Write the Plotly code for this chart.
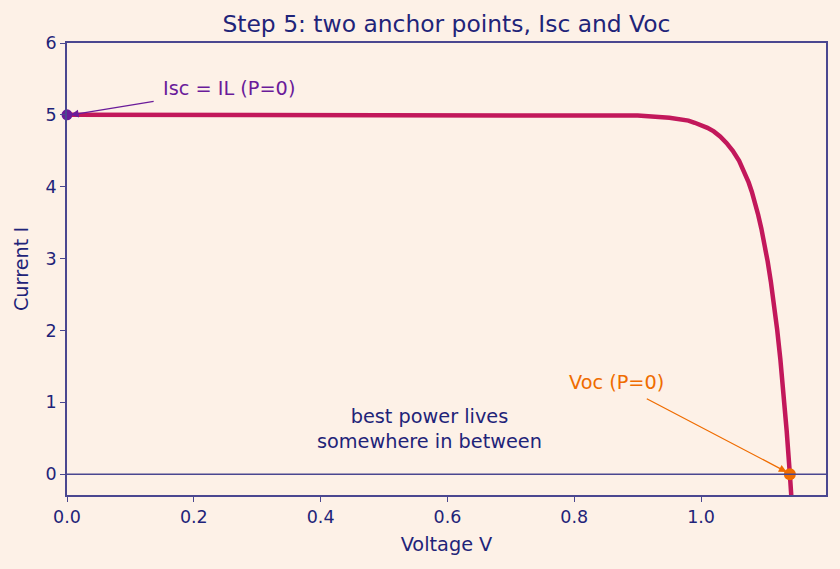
import plotly.graph_objects as go

# I-V curve values
voltage = [0.0, 0.1, 0.2, 0.3, 0.4, 0.5, 0.6, 0.7, 0.8, 0.85, 0.9, 0.95, 0.98, 0.99, 1.0,
           1.01, 1.02, 1.03, 1.04, 1.05, 1.06, 1.07, 1.075, 1.08, 1.085, 1.09, 1.095,
           1.10, 1.105, 1.11, 1.115, 1.12, 1.125, 1.13, 1.135, 1.14, 1.143]
current = [5.0, 5.0, 5.0, 5.0, 5.0, 5.0, 5.0, 5.0, 5.0, 5.0, 4.99, 4.96, 4.92, 4.89, 4.86,
           4.82, 4.77, 4.70, 4.61, 4.50, 4.36, 4.17, 4.06, 3.93, 3.78, 3.61, 3.42,
           3.21, 2.96, 2.68, 2.37, 2.01, 1.60, 1.13, 0.60, 0.0, -0.40]

isc_point = (0.0, 5.0)
voc_point = (1.14, 0.0)

title_text = "Step 5: two anchor points, Isc and Voc"
x_title = "Voltage V"
y_title = "Current I"
x_ticks = [0.0, 0.2, 0.4, 0.6, 0.8, 1.0]
y_ticks = [0, 1, 2, 3, 4, 5, 6]

BG = "#FDF1E7"
NAVY = "#1F2479"
AXIS = "#4A4790"
CURVE = "#C2185B"
PURPLE = "#6A1B9A"
ORANGE = "#EF6C00"
FONT = "DejaVu Sans"

fig = go.Figure()
fig.add_trace(go.Scatter(x=voltage, y=current, mode="lines",
                         line=dict(color=CURVE, width=4.5), hoverinfo="skip"))
fig.add_trace(go.Scatter(x=[isc_point[0]], y=[isc_point[1]], mode="markers",
                         marker=dict(color=PURPLE, size=11), cliponaxis=False))
fig.add_trace(go.Scatter(x=[voc_point[0]], y=[voc_point[1]], mode="markers",
                         marker=dict(color=ORANGE, size=12), cliponaxis=False))

fig.add_hline(y=0, line=dict(color=AXIS, width=1.5))

# Isc annotation
fig.add_annotation(x=0.149, y=5.36, text="Isc = IL (P=0)", showarrow=False,
                   xanchor="left", yanchor="middle",
                   font=dict(family=FONT, size=19.3, color=PURPLE))
fig.add_annotation(x=0.006, y=5.0, ax=0.139, ay=5.19, axref="x", ayref="y",
                   text="", showarrow=True, arrowhead=2, arrowsize=1.2,
                   arrowwidth=1.3, arrowcolor=PURPLE)
# Voc annotation
fig.add_annotation(x=0.866, y=1.28, text="Voc (P=0)", showarrow=False,
                   xanchor="center", yanchor="middle",
                   font=dict(family=FONT, size=19.3, color=ORANGE))
fig.add_annotation(x=1.135, y=0.03, ax=0.912, ay=1.06, axref="x", ayref="y",
                   text="", showarrow=True, arrowhead=2, arrowsize=1.2,
                   arrowwidth=1.3, arrowcolor=ORANGE)
# middle note
fig.add_annotation(x=0.571, y=0.625, text="best power lives<br>somewhere in between",
                   showarrow=False, xanchor="center", yanchor="middle",
                   font=dict(family=FONT, size=19.3, color=NAVY))

axis_common = dict(showline=True, mirror=True, linecolor=AXIS, linewidth=1.5,
                   ticks="outside", tickcolor=AXIS, ticklen=5, tickwidth=1.2,
                   showgrid=False, zeroline=False,
                   tickfont=dict(family=FONT, size=17.5, color=NAVY),
                   title_font=dict(family=FONT, size=19.3, color=NAVY))

fig.update_xaxes(range=[0, 1.197], tickvals=x_ticks,
                 ticktext=[f"{v:.1f}" for v in x_ticks],
                 title_text=x_title, title_standoff=12, **axis_common)
fig.update_yaxes(range=[-0.29, 6.0], tickvals=y_ticks,
                 ticktext=[str(v) for v in y_ticks],
                 title_text=y_title, title_standoff=12, **axis_common)

fig.update_layout(
    width=840, height=569,
    margin=dict(l=67, r=14, t=43, b=74),
    paper_bgcolor=BG, plot_bgcolor=BG,
    showlegend=False,
    title=dict(text=title_text, x=0.5315, xanchor="center", y=0.958, yanchor="middle",
               font=dict(family=FONT, size=23.4, color=NAVY)),
)

fig.write_html("out.html")
